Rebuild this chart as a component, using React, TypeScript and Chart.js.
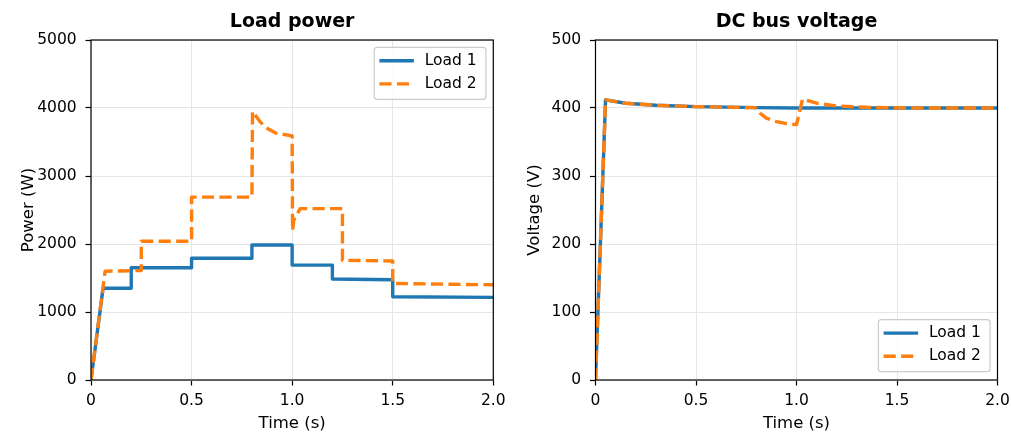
import React, { useEffect, useRef } from "react";
import { Chart, registerables } from "chart.js";

Chart.register(...registerables);

const FONT = "'DejaVu Sans', 'Liberation Sans', sans-serif";
const BLUE = "#1f77b4";
const ORANGE = "#ff7f0e";

// ---- data ----
const seriesLabels = ["Load 1", "Load 2"];
const chartTitles = ["Load power", "DC bus voltage"];
const axisTitles = ["Time (s)", "Power (W)", "Voltage (V)"];

const timeTicks = [0, 0.5, 1.0, 1.5, 2.0];
const powerTicks = [0, 1000, 2000, 3000, 4000, 5000];
const voltTicks = [0, 100, 200, 300, 400, 500];

const powerTimeL1 = [0, 0.06, 0.2, 0.2, 0.5, 0.5, 0.8, 0.8, 1.0, 1.0, 1.2, 1.2, 1.5, 1.5, 2.0];
const powerL1 = [0, 1350, 1350, 1650, 1650, 1790, 1790, 1985, 1985, 1690, 1690, 1485, 1475, 1225, 1215];

const powerTimeL2 = [0, 0.07, 0.25, 0.25, 0.5, 0.5, 0.8, 0.803, 0.84, 0.87, 0.92, 1.0, 1.002, 1.008, 1.04, 1.25, 1.25, 1.5, 1.5, 2.0];
const powerL2 = [0, 1600, 1610, 2040, 2040, 2690, 2690, 3950, 3800, 3710, 3630, 3590, 2200, 2350, 2520, 2520, 1760, 1750, 1420, 1400];

const voltTimeL1 = [0, 0.05, 0.15, 0.3, 0.5, 0.8, 1.0, 2.0];
const voltL1 = [0, 412, 407, 404, 402, 400.5, 400, 400];

const voltTimeL2 = [0, 0.05, 0.15, 0.3, 0.5, 0.795, 0.82, 0.85, 0.9, 0.95, 1.0, 1.03, 1.1, 1.2, 1.35, 1.6, 2.0];
const voltL2 = [0, 412, 407, 404, 402, 400.5, 392, 385, 380, 377, 375.5, 413, 407, 403, 401, 400, 400];

const toPoints = (xs: number[], ys: number[]) => xs.map((x, i) => ({ x, y: ys[i] }));

function decorPlugin(title: string, legendAtTop: boolean) {
  return {
    id: "decor",
    afterDraw(chart: any) {
      const { ctx, chartArea: a } = chart;
      ctx.save();
      // frame
      ctx.strokeStyle = "#000";
      ctx.lineWidth = 1.2;
      ctx.setLineDash([]);
      ctx.strokeRect(a.left, a.top, a.right - a.left, a.bottom - a.top);
      // title
      ctx.fillStyle = "#000";
      ctx.font = `bold 19px ${FONT}`;
      ctx.textAlign = "center";
      ctx.textBaseline = "alphabetic";
      ctx.fillText(title, (a.left + a.right) / 2, a.top - 13.3);
      // legend
      const w = 111.7;
      const h = 52;
      const bx = a.right - 7.4 - w;
      const by = legendAtTop ? a.top + 7.3 : a.bottom - 8.3 - h;
      ctx.beginPath();
      (ctx as any).roundRect(bx, by, w, h, 3);
      ctx.fillStyle = "rgba(255,255,255,0.8)";
      ctx.fill();
      ctx.strokeStyle = "#cccccc";
      ctx.lineWidth = 1.2;
      ctx.stroke();
      chart.data.datasets.forEach((ds: any, i: number) => {
        const ry = by + 13.4 + i * 23.2;
        ctx.beginPath();
        ctx.strokeStyle = ds.borderColor;
        ctx.lineWidth = ds.borderWidth;
        ctx.setLineDash(ds.borderDash || []);
        ctx.moveTo(bx + 5.2, ry);
        ctx.lineTo(bx + 39.7, ry);
        ctx.stroke();
        ctx.setLineDash([]);
        ctx.fillStyle = "#000";
        ctx.font = `15.5px ${FONT}`;
        ctx.textAlign = "left";
        ctx.textBaseline = "middle";
        ctx.fillText(ds.label, bx + 50.5, ry);
      });
      ctx.restore();
    },
  };
}

function makeConfig(opts: {
  title: string;
  yTitle: string;
  yTicks: number[];
  yMax: number;
  d1: { x: number; y: number }[];
  d2: { x: number; y: number }[];
  padLeft: number;
  padRight: number;
  yTitlePad: number;
  legendAtTop: boolean;
}): any {
  const tickFont = { family: FONT, size: 15.5 };
  const titleFont = { family: FONT, size: 16.5 };
  return {
    type: "line",
    data: {
      datasets: [
        {
          label: seriesLabels[0],
          data: opts.d1,
          borderColor: BLUE,
          backgroundColor: BLUE,
          borderWidth: 3.4,
          pointRadius: 0,
          tension: 0,
          borderJoinStyle: "round",
          order: 1,
        },
        {
          label: seriesLabels[1],
          data: opts.d2,
          borderColor: ORANGE,
          backgroundColor: ORANGE,
          borderWidth: 3.4,
          borderDash: [12.2, 5.3],
          pointRadius: 0,
          tension: 0,
          borderJoinStyle: "round",
          order: 0,
        },
      ],
    },
    options: {
      responsive: false,
      animation: false,
      events: [],
      layout: { padding: { left: opts.padLeft, right: opts.padRight, top: 40, bottom: 0 } },
      plugins: { legend: { display: false }, title: { display: false }, tooltip: { enabled: false } },
      scales: {
        x: {
          type: "linear",
          min: 0,
          max: 2,
          afterBuildTicks: (s: any) => {
            s.ticks = timeTicks.map((v) => ({ value: v }));
          },
          afterFit: (s: any) => {
            s.height = 54;
            s.paddingLeft = 0;
            s.paddingRight = 0;
          },
          ticks: {
            color: "#000",
            font: tickFont,
            padding: 6,
            maxRotation: 0,
            autoSkip: false,
            callback: (v: number) => (v === 0 ? "0" : v.toFixed(1)),
          },
          grid: { color: "#e6e6e6", lineWidth: 1, tickColor: "#000", tickLength: 5.5, tickWidth: 1.2 },
          border: { display: false },
          title: { display: true, text: axisTitles[0], color: "#000", font: titleFont, padding: { top: 0, bottom: 0 } },
        },
        y: {
          type: "linear",
          min: 0,
          max: opts.yMax,
          afterBuildTicks: (s: any) => {
            s.ticks = opts.yTicks.map((v) => ({ value: v }));
          },
          afterFit: (s: any) => {
            s.width = opts.padLeft === 0 ? 91 : 90.5;
            s.paddingTop = 0;
            s.paddingBottom = 0;
          },
          ticks: {
            color: "#000",
            font: tickFont,
            padding: 8.8,
            autoSkip: false,
            callback: (v: number) => String(v),
          },
          grid: { color: "#e6e6e6", lineWidth: 1, tickColor: "#000", tickLength: 5.5, tickWidth: 1.2 },
          border: { display: false },
          title: { display: true, text: opts.yTitle, color: "#000", font: titleFont, padding: { top: opts.yTitlePad, bottom: 0 } },
        },
      },
    },
    plugins: [decorPlugin(opts.title, opts.legendAtTop)],
  };
}

export default function App() {
  const leftRef = useRef<HTMLCanvasElement | null>(null);
  const rightRef = useRef<HTMLCanvasElement | null>(null);

  useEffect(() => {
    const left = new Chart(
      leftRef.current!,
      makeConfig({
        title: chartTitles[0],
        yTitle: axisTitles[1],
        yTicks: powerTicks,
        yMax: 5000,
        d1: toPoints(powerTimeL1, powerL1),
        d2: toPoints(powerTimeL2, powerL2),
        padLeft: 0,
        padRight: 1011 - 493.3,
        yTitlePad: 18.4,
        legendAtTop: true,
      })
    );
    const right = new Chart(
      rightRef.current!,
      makeConfig({
        title: chartTitles[1],
        yTitle: axisTitles[2],
        yTicks: voltTicks,
        yMax: 500,
        d1: toPoints(voltTimeL1, voltL1),
        d2: toPoints(voltTimeL2, voltL2),
        padLeft: 505,
        padRight: 1011 - 997.5,
        yTitlePad: 19.4,
        legendAtTop: false,
      })
    );
    return () => {
      left.destroy();
      right.destroy();
    };
  }, []);

  const style: React.CSSProperties = { position: "absolute", left: 0, top: 0, width: 1011, height: 434, display: "block" };
  return (
    <div style={{ position: "fixed", left: 0, top: 0, width: 1011, height: 434, background: "#fff" }}>
      <canvas ref={leftRef} width={1011} height={434} style={style} />
      <canvas ref={rightRef} width={1011} height={434} style={style} />
    </div>
  );
}
